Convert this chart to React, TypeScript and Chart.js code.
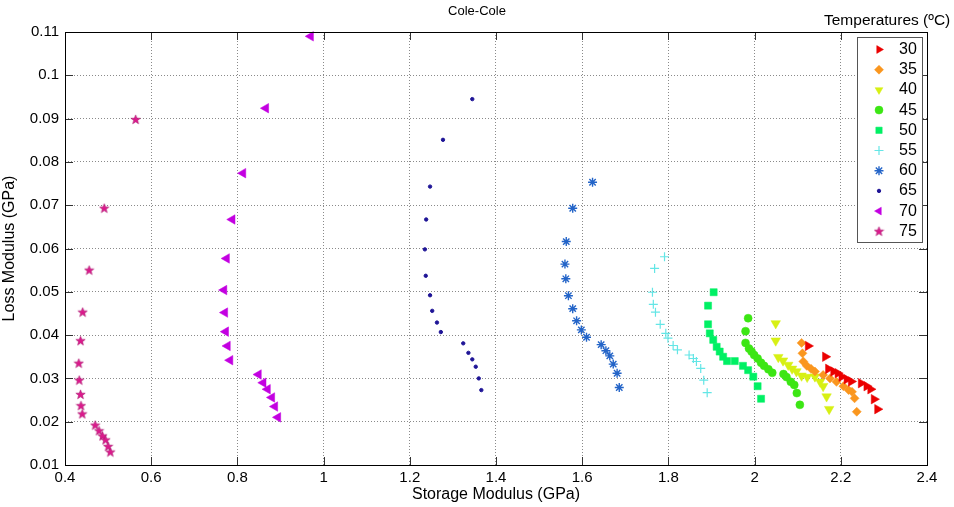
import React, { useEffect, useRef } from 'react';
import { Chart, registerables } from 'chart.js';
import { drawPoint } from 'chart.js/helpers';

Chart.register(...registerables);

// ---------- data ----------
const chartTitle = 'Cole-Cole';
const legendTitle = 'Temperatures (ºC)';
const xAxisTitle = 'Storage Modulus (GPa)';
const yAxisTitle = 'Loss Modulus (GPa)';
const temperatures = ['30', '35', '40', '45', '50', '55', '60', '65', '70', '75'];

const s30 = [[2.124, 0.0375], [2.164, 0.0350], [2.171, 0.0322], [2.183, 0.0316], [2.193, 0.0312], [2.202, 0.0304], [2.214, 0.0298], [2.224, 0.0293], [2.247, 0.0289], [2.260, 0.0282], [2.269, 0.0275], [2.277, 0.0252], [2.285, 0.0229]];
const s35 = [[2.109, 0.0382], [2.111, 0.0358], [2.113, 0.0339], [2.121, 0.0329], [2.131, 0.0322], [2.140, 0.0316], [2.159, 0.0308], [2.175, 0.0300], [2.190, 0.0292], [2.206, 0.0282], [2.218, 0.0273], [2.226, 0.0269], [2.232, 0.0254], [2.237, 0.0223]];
const s40 = [[2.049, 0.0427], [2.049, 0.0387], [2.055, 0.0349], [2.066, 0.0341], [2.078, 0.0331], [2.087, 0.0322], [2.097, 0.0316], [2.109, 0.0306], [2.122, 0.0303], [2.140, 0.0304], [2.152, 0.0292], [2.159, 0.0282], [2.167, 0.0258], [2.173, 0.0229]];
const s45 = [[1.985, 0.0439], [1.979, 0.0409], [1.979, 0.0382], [1.987, 0.0369], [1.993, 0.0362], [1.999, 0.0354], [2.007, 0.0346], [2.015, 0.0336], [2.022, 0.0329], [2.032, 0.0321], [2.041, 0.0313], [2.067, 0.0310], [2.074, 0.0303], [2.084, 0.0292], [2.092, 0.0285], [2.098, 0.0266], [2.105, 0.0239]];
const s50 = [[1.905, 0.0499], [1.892, 0.0468], [1.892, 0.0425], [1.896, 0.0404], [1.904, 0.0389], [1.912, 0.0373], [1.919, 0.0362], [1.927, 0.0350], [1.936, 0.0340], [1.954, 0.0340], [1.973, 0.0329], [1.985, 0.0319], [1.997, 0.0304], [2.007, 0.0282], [2.015, 0.0253]];
const s55 = [[1.791, 0.0581], [1.768, 0.0554], [1.763, 0.0499], [1.765, 0.0471], [1.770, 0.0453], [1.781, 0.0425], [1.794, 0.0404], [1.799, 0.0393], [1.811, 0.0376], [1.821, 0.0366], [1.848, 0.0354], [1.858, 0.0346], [1.865, 0.0339], [1.875, 0.0323], [1.882, 0.0296], [1.890, 0.0267]];
const s60 = [[1.624, 0.0753], [1.578, 0.0693], [1.563, 0.0616], [1.560, 0.0564], [1.562, 0.0530], [1.568, 0.0491], [1.578, 0.0461], [1.587, 0.0433], [1.598, 0.0412], [1.610, 0.0395], [1.644, 0.0378], [1.655, 0.0364], [1.664, 0.0352], [1.672, 0.0333], [1.681, 0.0312], [1.686, 0.0279]];
const s65 = [[1.345, 0.0945], [1.277, 0.0851], [1.247, 0.0743], [1.238, 0.0667], [1.235, 0.0598], [1.237, 0.0537], [1.247, 0.0492], [1.252, 0.0456], [1.263, 0.0429], [1.272, 0.0407], [1.324, 0.0381], [1.336, 0.0359], [1.345, 0.0344], [1.353, 0.0327], [1.360, 0.0300], [1.366, 0.0273]];
const s70 = [[0.970, 0.1090], [0.866, 0.0924], [0.813, 0.0774], [0.788, 0.0667], [0.775, 0.0577], [0.769, 0.0504], [0.771, 0.0452], [0.773, 0.0408], [0.777, 0.0375], [0.783, 0.0342], [0.849, 0.0309], [0.860, 0.0290], [0.870, 0.0275], [0.880, 0.0256], [0.887, 0.0235], [0.894, 0.0210]];
const s75 = [[0.564, 0.0898], [0.491, 0.0693], [0.456, 0.0550], [0.441, 0.0453], [0.436, 0.0387], [0.432, 0.0335], [0.433, 0.0296], [0.436, 0.0263], [0.437, 0.0237], [0.440, 0.0218], [0.470, 0.0192], [0.479, 0.0179], [0.487, 0.0167], [0.494, 0.0158], [0.500, 0.0143], [0.505, 0.0130]];

const seriesData = [s30, s35, s40, s45, s50, s55, s60, s65, s70, s75];

const xTicks = [0.4, 0.6, 0.8, 1, 1.2, 1.4, 1.6, 1.8, 2, 2.2, 2.4];
const yTicks = [0.01, 0.02, 0.03, 0.04, 0.05, 0.06, 0.07, 0.08, 0.09, 0.1, 0.11];

// ---------- styles ----------
const colors = [
  'rgb(235,0,0)', 'rgb(250,150,30)', 'rgb(215,240,20)', 'rgb(60,230,20)', 'rgb(0,240,100)',
  'rgb(100,230,230)', 'rgb(35,100,200)', 'rgb(30,20,150)', 'rgb(195,0,225)', 'rgb(220,25,140)',
];
const shapes = ['triangle', 'rectRot', 'triangle', 'circle', 'rect', 'cross', 'star', 'circle', 'triangle', 'pentagram'];
const rotations = [90, 0, 180, 0, 0, 0, 0, 0, -90, 0];
const radii = [5.5, 4.5, 5.5, 4, 5, 4.5, 4.5, 1.7, 5.5, 5];
const borderWidths = [0.5, 0.5, 0.5, 0.5, 0.5, 1.2, 1.4, 1, 0.5, 0];

const FONT = '"Liberation Sans", Arial, Helvetica, sans-serif';

function makePentagram(color: string): HTMLCanvasElement {
  const c = document.createElement('canvas');
  c.width = 11;
  c.height = 11;
  const ctx = c.getContext('2d')!;
  const cx = 5.5, cy = 5.8, R = 4.9, r = R * 0.42;
  ctx.beginPath();
  for (let i = 0; i < 10; i++) {
    const ang = -Math.PI / 2 + (i * Math.PI) / 5;
    const rad = i % 2 === 0 ? R : r;
    const px = cx + Math.cos(ang) * rad;
    const py = cy + Math.sin(ang) * rad;
    if (i === 0) ctx.moveTo(px, py);
    else ctx.lineTo(px, py);
  }
  ctx.closePath();
  ctx.fillStyle = color;
  ctx.fill();
  ctx.strokeStyle = 'rgb(170,20,110)';
  ctx.lineWidth = 0.6;
  ctx.stroke();
  return c;
}

export default function App() {
  const ref = useRef<HTMLCanvasElement | null>(null);

  useEffect(() => {
    if (!ref.current) return;
    const styles: any[] = shapes.map((s, i) => (s === 'pentagram' ? makePentagram(colors[i]) : s));

    const framePlugin = {
      id: 'frame',
      afterDraw(chart: any) {
        const { ctx, chartArea } = chart;
        const { left, right, top, bottom } = chartArea;
        const xs = chart.scales.x;
        const ys = chart.scales.y;
        ctx.save();
        // inward tick marks
        ctx.strokeStyle = '#333';
        ctx.lineWidth = 1;
        ctx.beginPath();
        xTicks.forEach((v) => {
          const px = Math.round(xs.getPixelForValue(v)) + 0.5;
          ctx.moveTo(px, bottom);
          ctx.lineTo(px, bottom - 8);
          ctx.moveTo(px, top);
          ctx.lineTo(px, top + 8);
        });
        yTicks.forEach((v) => {
          const py = Math.round(ys.getPixelForValue(v)) + 0.5;
          ctx.moveTo(left, py);
          ctx.lineTo(left + 8, py);
          ctx.moveTo(right, py);
          ctx.lineTo(right - 8, py);
        });
        ctx.stroke();
        // box
        ctx.strokeStyle = '#000';
        ctx.lineWidth = 1;
        ctx.strokeRect(Math.round(left) + 0.5, Math.round(top) + 0.5, Math.round(right - left), Math.round(bottom - top));

        // titles
        ctx.fillStyle = '#000';
        ctx.font = `13px ${FONT}`;
        ctx.textAlign = 'center';
        ctx.textBaseline = 'middle';
        ctx.fillText(chartTitle, 477, 11);
        ctx.textAlign = 'left';
        ctx.font = `15.5px ${FONT}`;
        ctx.fillText(legendTitle, 824, 21);

        // legend box
        const bx = 857, by = 37, bw = 65, bh = 205;
        ctx.fillStyle = '#fff';
        ctx.fillRect(bx, by, bw, bh);
        ctx.strokeStyle = '#555';
        ctx.lineWidth = 1;
        ctx.strokeRect(bx + 0.5, by + 0.5, bw, bh);
        temperatures.forEach((t, i) => {
          const y = 49.5 + i * 20.2;
          ctx.fillStyle = colors[i];
          ctx.strokeStyle = colors[i];
          ctx.lineWidth = borderWidths[i];
          drawPoint(ctx, {
            pointStyle: styles[i],
            rotation: rotations[i],
            radius: Math.min(radii[i], 4.5),
            borderWidth: borderWidths[i],
          } as any, 879, y);
          ctx.fillStyle = '#000';
          ctx.font = `16px ${FONT}`;
          ctx.textAlign = 'left';
          ctx.textBaseline = 'middle';
          ctx.fillText(t, 899, y);
        });
        ctx.restore();
      },
    };

    const chart = new Chart(ref.current, {
      type: 'scatter',
      data: {
        datasets: seriesData.map((pts, i) => ({
          label: temperatures[i],
          data: pts.map(([x, y]) => ({ x, y })),
          pointStyle: styles[i],
          rotation: rotations[i],
          pointRadius: radii[i],
          pointBorderWidth: borderWidths[i],
          backgroundColor: colors[i],
          borderColor: colors[i],
          showLine: false,
        })),
      },
      options: {
        animation: false,
        responsive: false,
        devicePixelRatio: 1,
        clip: false as any,
        layout: { padding: { top: 32, right: 27, left: 0, bottom: 0 } },
        plugins: {
          legend: { display: false },
          tooltip: { enabled: false },
          title: { display: false },
        },
        scales: {
          x: {
            type: 'linear',
            min: 0.4,
            max: 2.4,
            afterBuildTicks: (scale: any) => {
              scale.ticks = xTicks.map((v) => ({ value: v }));
            },
            afterFit: (scale: any) => {
              scale.height = 42;
            },
            ticks: {
              color: '#000',
              font: { family: FONT, size: 15 },
              padding: 4,
              maxRotation: 0,
              autoSkip: false,
              callback: (v: any) => String(Number(Number(v).toFixed(1))),
            },
            grid: {
              drawTicks: false,
              color: (c: any) => (c.tick && (c.tick.value === 0.4 || c.tick.value === 2.4) ? 'rgba(0,0,0,0)' : '#8a8a8a'),
              lineWidth: 1,
            },
            border: { display: false, dash: [1, 2] },
            title: {
              display: true,
              text: xAxisTitle,
              color: '#000',
              font: { family: FONT, size: 16 },
              padding: { top: 0, bottom: 3 },
            },
          },
          y: {
            type: 'linear',
            min: 0.01,
            max: 0.11,
            afterBuildTicks: (scale: any) => {
              scale.ticks = yTicks.map((v) => ({ value: v }));
            },
            afterFit: (scale: any) => {
              scale.width = 65;
            },
            ticks: {
              color: '#000',
              font: { family: FONT, size: 15 },
              padding: 6,
              autoSkip: false,
              callback: (v: any) => String(Number(Number(v).toFixed(2))),
            },
            grid: {
              drawTicks: false,
              color: (c: any) => (c.tick && (Math.abs(c.tick.value - 0.01) < 1e-9 || Math.abs(c.tick.value - 0.11) < 1e-9) ? 'rgba(0,0,0,0)' : '#8a8a8a'),
              lineWidth: 1,
            },
            border: { display: false, dash: [1, 2] },
            title: {
              display: true,
              text: yAxisTitle,
              color: '#000',
              font: { family: FONT, size: 16 },
              padding: { top: 0, bottom: 0 },
            },
          },
        },
      },
      plugins: [framePlugin],
    } as any);

    return () => chart.destroy();
  }, []);

  return (
    <div style={{ position: 'absolute', left: 0, top: 0, width: 954, height: 507, background: '#fff' }}>
      <canvas ref={ref} width={954} height={507} style={{ display: 'block', width: 954, height: 507 }} />
    </div>
  );
}
